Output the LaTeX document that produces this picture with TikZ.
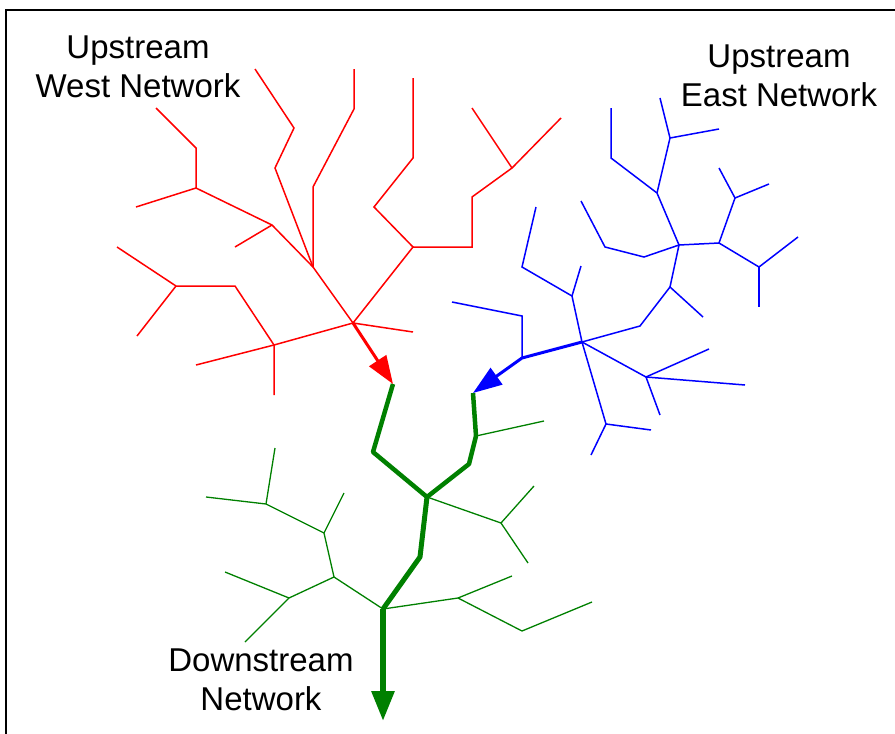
\documentclass[tikz,border=0pt]{standalone}
\usepackage{fontspec}
\setmainfont{Liberation Sans}
\usetikzlibrary{arrows.meta}
\tikzset{
  wnet/.style={draw=red, line width=1.5pt},
  enet/.style={draw=blue, line width=1.5pt},
  dnet/.style={draw=green!50!black, line width=1.3pt},
  trunk/.style={line width=#1, line join=round},
  lbl/.style={align=center, inner sep=0pt, font=\fontsize{33}{38.5}\selectfont},
}

\begin{document}
\begin{tikzpicture}[x=1pt, y=-1pt]
  \useasboundingbox (0,0) rectangle (895,734);
  \clip (0,0) rectangle (895,734);
  \draw[line width=2pt] (6,10) rectangle (910,750);

  % upstream west network
  \coordinate (w1) at (353,323);
  \coordinate (w2) at (313,267);
  \coordinate (w3) at (272,225);
  \coordinate (w4) at (196,188);
  \coordinate (w5) at (413,247);
  \coordinate (w6) at (512,168);
  \coordinate (w7) at (274,345);
  \coordinate (w8) at (176,286);
  \draw[wnet] (w1) -- (w2) -- (w3) -- (w4) -- (136,207);
  \draw[wnet] (w4) -- (196,148) -- (156,108);
  \draw[wnet] (w3) -- (235,247);
  \draw[wnet] (w2) -- (313,187) -- (354,109) -- (354,69);
  \draw[wnet] (w2) -- (275,168) -- (294,128) -- (255,69);
  \draw[wnet] (w1) -- (w5) -- (374,207) -- (413,158) -- (413,78);
  \draw[wnet] (w5) -- (472,247) -- (472,197) -- (w6) -- (561,118);
  \draw[wnet] (w6) -- (472,108);
  \draw[wnet] (w1) -- (413,332);
  \draw[wnet] (w1) -- (w7) -- (274,395);
  \draw[wnet] (w7) -- (196,365);
  \draw[wnet] (w7) -- (235,286) -- (w8) -- (117,247);
  \draw[wnet] (w8) -- (137,336);

  % upstream east network
  \coordinate (e0) at (522,358);
  \coordinate (e1) at (582,342);
  \coordinate (e2) at (572,296);
  \coordinate (e3) at (670,287);
  \coordinate (e4) at (679,245);
  \coordinate (e5) at (657,193);
  \coordinate (e6) at (670,138);
  \coordinate (e7) at (719,243);
  \coordinate (e8) at (735,198);
  \coordinate (e9) at (759,267);
  \coordinate (e10) at (646,377);
  \coordinate (e11) at (606,424);
  \draw[enet] (e0) -- (522,316) -- (452,302);
  \draw[enet] (e1) -- (e2) -- (581,266);
  \draw[enet] (e2) -- (522,267) -- (536,207);
  \draw[enet] (e1) -- (640,326) -- (e3) -- (703,317);
  \draw[enet] (e3) -- (e4) -- (644,257) -- (605,247) -- (581,201);
  \draw[enet] (e4) -- (e5) -- (611,158) -- (611,108);
  \draw[enet] (e5) -- (e6) -- (660,98);
  \draw[enet] (e6) -- (719,129);
  \draw[enet] (e4) -- (e7) -- (e8) -- (719,168);
  \draw[enet] (e8) -- (769,184);
  \draw[enet] (e7) -- (e9) -- (798,237);
  \draw[enet] (e9) -- (759,307);
  \draw[enet] (e1) -- (e10) -- (709,349);
  \draw[enet] (e10) -- (745,385);
  \draw[enet] (e10) -- (660,415);
  \draw[enet] (e1) -- (e11) -- (651,430);
  \draw[enet] (e11) -- (591,455);

  % downstream network
  \coordinate (g0) at (393,384);
  \coordinate (g1) at (427,497);
  \coordinate (g2) at (476,436);
  \coordinate (g3) at (383,609);
  \coordinate (g4) at (501,523);
  \coordinate (g5) at (473,393);
  \coordinate (g6) at (334,577);
  \coordinate (g7) at (289,598);
  \coordinate (g8) at (324,533);
  \coordinate (g9) at (266,504);
  \coordinate (g10) at (458,598);
  \coordinate (gout) at (383,721);
  \draw[dnet] (g2) -- (544,421);
  \draw[dnet] (g1) -- (g4) -- (534,486);
  \draw[dnet] (g4) -- (528,563);
  \draw[dnet] (g3) -- (g10) -- (512,576);
  \draw[dnet] (g10) -- (522,631) -- (592,602);
  \draw[dnet] (g3) -- (g6) -- (g7) -- (225,572);
  \draw[dnet] (g7) -- (245,642);
  \draw[dnet] (g6) -- (g8) -- (344,493);
  \draw[dnet] (g8) -- (g9) -- (206,497);
  \draw[dnet] (g9) -- (275,448);
  \draw[dnet, trunk=4.5pt] (g0) -- (373,452) -- (g1);
  \draw[dnet, trunk=4.5pt] (g5) -- (g2) -- (469,464) -- (g1);
  \draw[dnet, trunk=5pt] (g1) -- (420,557) -- (g3);
  \draw[dnet, trunk=6pt, -{Triangle[length=30pt,width=22pt]}] (g3) -- (gout);

  % outlets into the downstream network
  \draw[wnet, line width=3pt, -{Triangle[length=28pt,width=20pt]}] (w1) -- (g0);
  \draw[enet, trunk=3pt, -{Triangle[length=29pt,width=20pt]}] (e1) -- (e0) -- (g5);

  \node[lbl, anchor=base] (wlbl) at (138,97) {Upstream\\West Network};
  \node[lbl, anchor=base] (elbl) at (779,106) {Upstream\\East Network};
  \node[lbl, anchor=base] (dlbl) at (261,710) {Downstream\\Network};
\end{tikzpicture}
\end{document}
